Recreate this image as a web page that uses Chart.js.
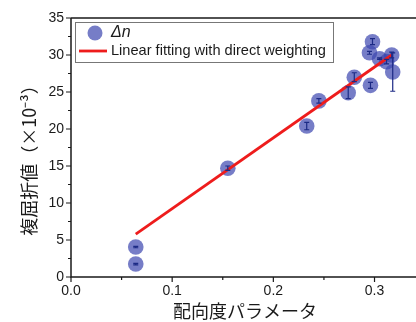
<!DOCTYPE html>
<html>
<head>
<meta charset="utf-8">
<script src="https://cdn.jsdelivr.net/npm/chart.js@4"></script>
<style>
  html, body { margin: 0; padding: 0; background: #fff; }
  #wrap { width: 416px; height: 322px; }
</style>
</head>
<body>
<div id="wrap"><canvas id="chart" width="416" height="322"></canvas></div>
<script>
// ── Data ──────────────────────────────────────────────────

const orderParam = [0.064, 0.064, 0.155, 0.233, 0.245, 0.274, 0.280, 0.296, 0.295, 0.298, 0.305, 0.312, 0.317, 0.318];
const birefring  = [1.75, 4.05, 14.7, 20.4, 23.8, 24.9, 27.0, 25.9, 30.3, 31.8, 29.5, 29.1, 30.0, 27.7];
const errBars    = [0.1, 0.1, 0.3, 0.5, 0.3, 0.8, 0.6, 0.4, 0.2, 0.4, 0.1, 0.3, 0.4, 2.6];

const fitX = [0.064, 0.317];
const fitY = [5.8, 30.0];

const xTicks = [0, 0.1, 0.2, 0.3];
const yTicks = [0, 5, 10, 15, 20, 25, 30, 35];

const legendLabels = ['Δn', 'Linear fitting with direct weighting'];

// ── Styles ────────────────────────────────────────────────

const dotColor  = 'rgba(60, 70, 175, 0.7)';
const errColor  = '#1c2a85';
const fitColor  = '#ee1c1c';
const axisColor = '#1a1a1a';
const tickFont  = '14px "Liberation Sans", Arial, sans-serif';
const cjkFont   = '"Noto Sans CJK JP", "Liberation Sans", sans-serif';

// ── Plugins ───────────────────────────────────────────────

const errorBarPlugin = {
    id: 'errorBars',
    afterDatasetsDraw(chart) {
        const ctx = chart.ctx;
        const xs = chart.scales.x, ys = chart.scales.y;
        ctx.save();
        ctx.strokeStyle = errColor;
        ctx.lineWidth = 1.2;
        orderParam.forEach((xv, i) => {
            const px = xs.getPixelForValue(xv);
            const top = ys.getPixelForValue(birefring[i] + errBars[i]);
            const bot = ys.getPixelForValue(birefring[i] - errBars[i]);
            ctx.beginPath();
            ctx.moveTo(px, top); ctx.lineTo(px, bot);
            ctx.moveTo(px - 2.5, top); ctx.lineTo(px + 2.5, top);
            ctx.moveTo(px - 2.5, bot); ctx.lineTo(px + 2.5, bot);
            ctx.stroke();
        });
        ctx.restore();
    }
};

const framePlugin = {
    id: 'frame',
    afterDraw(chart) {
        const ctx = chart.ctx;
        const a = chart.chartArea;
        const xs = chart.scales.x, ys = chart.scales.y;
        ctx.save();
        ctx.strokeStyle = axisColor;
        ctx.lineWidth = 1.5;

        // axes + top border
        ctx.beginPath();
        ctx.moveTo(a.left, a.top); ctx.lineTo(a.right, a.top);
        ctx.moveTo(a.left, a.top); ctx.lineTo(a.left, a.bottom);
        ctx.lineTo(a.right, a.bottom);
        ctx.stroke();

        // ticks (major + minor)
        ctx.lineWidth = 1.2;
        ctx.beginPath();
        for (let v = 0; v <= 35.01; v += 2.5) {
            const py = ys.getPixelForValue(v);
            const len = (Math.round(v * 10) % 50 === 0) ? 5 : 3;
            ctx.moveTo(a.left - len, py); ctx.lineTo(a.left, py);
        }
        for (let v = 0; v <= 0.34; v += 0.05) {
            const px = xs.getPixelForValue(v);
            const len = (Math.round(v * 100) % 10 === 0) ? 5 : 3;
            ctx.moveTo(px, a.bottom); ctx.lineTo(px, a.bottom + len);
        }
        ctx.stroke();

        // tick labels
        ctx.fillStyle = axisColor;
        ctx.font = tickFont;
        ctx.textAlign = 'right';
        ctx.textBaseline = 'middle';
        yTicks.forEach(v => ctx.fillText(String(v), a.left - 7, ys.getPixelForValue(v)));
        ctx.textAlign = 'center';
        ctx.textBaseline = 'top';
        xTicks.forEach(v => ctx.fillText(v.toFixed(1), xs.getPixelForValue(v), a.bottom + 7));

        // axis titles
        ctx.font = '18px ' + cjkFont;
        ctx.textBaseline = 'middle';
        ctx.fillText('配向度パラメータ', 245, 311);

        ctx.translate(29, 156);
        ctx.rotate(-Math.PI / 2);
        ctx.fillText('複屈折値（×10⁻³）', 0, 0);
        ctx.restore();

        // legend box
        ctx.save();
        ctx.fillStyle = '#fff';
        ctx.strokeStyle = '#777';
        ctx.lineWidth = 1;
        ctx.fillRect(75, 22, 258, 40);
        ctx.strokeRect(75.5, 22.5, 258, 40);

        ctx.fillStyle = dotColor;
        ctx.beginPath();
        ctx.arc(95, 33, 7.5, 0, Math.PI * 2);
        ctx.fill();

        ctx.strokeStyle = fitColor;
        ctx.lineWidth = 2.8;
        ctx.beginPath();
        ctx.moveTo(79, 51); ctx.lineTo(107, 51);
        ctx.stroke();

        ctx.fillStyle = axisColor;
        ctx.textAlign = 'left';
        ctx.textBaseline = 'middle';
        ctx.font = 'italic 16px "Liberation Sans", Arial, sans-serif';
        ctx.fillText(legendLabels[0], 111, 33);
        ctx.font = '14.6px "Liberation Sans", Arial, sans-serif';
        ctx.fillText(legendLabels[1], 111, 51);
        ctx.restore();
    }
};

// ── Chart ─────────────────────────────────────────────────

const ctx = document.getElementById('chart').getContext('2d');

new Chart(ctx, {
    type: 'scatter',
    plugins: [errorBarPlugin, framePlugin],
    data: {
        datasets: [
            {
                label: legendLabels[0],
                data: orderParam.map((x, i) => ({ x, y: birefring[i] })),
                backgroundColor: dotColor,
                borderWidth: 0,
                pointRadius: 7.8,
                order: 2
            },
            {
                label: legendLabels[1],
                type: 'line',
                data: fitX.map((x, i) => ({ x, y: fitY[i] })),
                borderColor: fitColor,
                borderWidth: 2.8,
                pointRadius: 0,
                order: 1
            }
        ]
    },
    options: {
        responsive: false,
        animation: false,
        layout: { autoPadding: false, padding: { top: 18, right: 0, left: 0, bottom: 0 } },
        plugins: {
            legend: { display: false },
            tooltip: { enabled: false }
        },
        scales: {
            x: {
                type: 'linear',
                min: 0,
                max: 0.341,
                grid: { display: false },
                border: { display: false },
                ticks: { display: false },
                afterFit(scale) { scale.height = 45; }
            },
            y: {
                min: 0,
                max: 35,
                grid: { display: false },
                border: { display: false },
                ticks: { display: false },
                afterFit(scale) { scale.width = 71; }
            }
        }
    }
});
</script>
</body>
</html>
